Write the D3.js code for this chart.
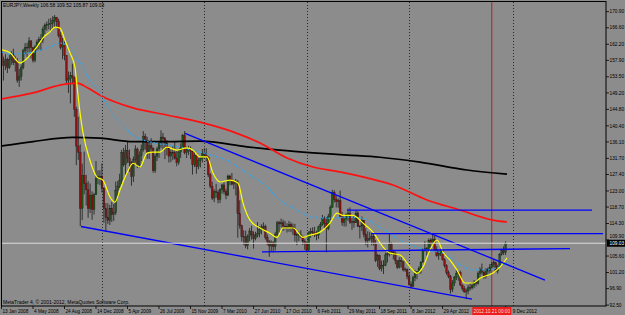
<!DOCTYPE html>
<html>
<head>
<meta charset="utf-8">
<script src="https://cdn.jsdelivr.net/npm/d3@7"></script>
<style>
  html, body { margin:0; padding:0; background:#8c8c8c; overflow:hidden; }
  svg { display:block; }
  text { font-family: "Liberation Sans", Arial, sans-serif; fill:#000; }
</style>
</head>
<body>
<div id="chart"></div>
<script>
// header of the chart
const symbolTitle = 'EURJPY,Weekly'
const lastBarText = ['106.58', '109.52', '105.87', '109.03']
const copyright = 'MetaTrader 4, \u00a9 2001-2012, MetaQuotes Software Corp.'

// weekly bars, week 0 = 13 Jan 2008 (open of a bar = previous close)
const firstOpen = 160.6
const closes = [
  157.6, 156.5, 158.1, 155.9, 158.1, 159.6, 157.3, 157.7, 152.6, 153.6,
  156.0, 160.5, 161.4, 161.2, 163.1, 161.3, 157.9, 161.5, 162.8, 163.5,
  163.3, 166.2, 167.3, 167.4, 167.6, 167.8, 168.6, 169.4, 168.2, 164.6,
  161.4, 162.0, 159.2, 152.6, 153.0, 153.8, 153.3, 144.8, 135.0, 133.3,
  118.3, 127.2, 125.0, 123.3, 118.3, 121.9, 118.0, 122.0, 126.4, 126.8,
  126.9, 123.7, 118.3, 115.9, 115.1, 118.4, 116.7, 117.2, 123.2, 124.3,
  125.9, 133.2, 130.0, 133.8, 131.8, 130.6, 126.9, 131.4, 134.2, 129.9,
  132.4, 134.1, 137.6, 136.4, 133.3, 135.1, 134.4, 128.4, 132.3, 134.2,
  135.8, 137.4, 137.0, 135.8, 134.5, 132.3, 133.3, 133.2, 131.8, 130.6,
  133.4, 134.7, 137.8, 133.2, 134.0, 134.1, 133.5, 130.1, 132.5, 129.6,
  131.1, 131.7, 133.1, 132.6, 132.1, 127.3, 124.3, 121.1, 122.8, 122.6,
  120.7, 123.4, 124.6, 122.8, 121.9, 127.0, 125.9, 124.8, 125.5, 125.2,
  116.9, 113.7, 110.9, 110.7, 108.4, 110.9, 112.3, 111.3, 110.3, 111.1,
  111.7, 112.8, 113.4, 113.5, 110.6, 109.5, 108.3, 109.3, 108.1, 111.4,
  114.5, 114.2, 114.5, 113.6, 113.5, 113.4, 114.1, 113.4, 112.8, 111.2,
  111.3, 111.3, 110.7, 109.6, 108.9, 107.2, 111.8, 112.2, 111.9, 111.5,
  111.2, 113.4, 114.0, 115.7, 114.4, 112.9, 116.1, 118.6, 122.6, 120.7,
  120.1, 120.4, 116.2, 114.6, 115.5, 116.8, 117.1, 114.6, 114.9, 114.5,
  117.0, 113.6, 113.6, 115.2, 111.4, 109.7, 110.2, 110.3, 110.9, 108.9,
  104.5, 105.7, 102.2, 103.0, 103.2, 105.9, 106.2, 108.8, 106.8, 106.4,
  104.4, 102.6, 104.5, 104.1, 101.9, 102.1, 100.2, 98.0, 97.5, 99.8,
  100.9, 101.4, 102.2, 104.0, 107.3, 107.6, 107.7, 109.8, 108.9, 110.1,
  107.3, 105.7, 106.3, 107.0, 104.6, 103.1, 101.2, 100.2, 96.7, 98.4,
  99.9, 101.0, 101.3, 97.9, 96.9, 96.0, 96.3, 97.2, 97.1, 97.8,
  98.6, 98.3, 100.9, 102.0, 101.3, 100.1, 102.1, 101.6, 102.6, 103.3,
  103.8, 101.6, 102.9, 106.1, 107.0, 106.6, 109.03
]
const highs = [
  161.3, 158.9, 159.5, 158.6, 159.3, 160.3, 161.0, 159.0, 158.5, 155.6,
  156.8, 161.0, 162.5, 162.6, 164.1, 163.3, 161.4, 162.0, 163.4, 164.2,
  164.9, 166.9, 167.8, 168.3, 169.0, 169.2, 169.7, 170.0, 169.5, 169.0,
  165.4, 163.9, 162.9, 159.3, 154.9, 154.8, 157.0, 153.6, 145.5, 142.8,
  135.4, 130.3, 133.5, 127.3, 125.6, 125.0, 122.9, 122.5, 131.0, 128.5,
  128.5, 130.4, 124.0, 119.8, 119.7, 119.3, 120.1, 119.5, 125.5, 125.6,
  127.6, 134.0, 134.5, 135.3, 136.1, 134.1, 131.0, 132.2, 135.2, 134.6,
  133.6, 135.4, 139.0, 138.3, 137.4, 136.0, 137.1, 134.7, 132.9, 134.8,
  136.4, 139.2, 138.5, 137.4, 136.6, 134.6, 134.0, 135.0, 136.2, 133.7,
  133.9, 135.7, 138.2, 139.0, 134.8, 135.1, 134.9, 133.9, 133.8, 133.0,
  131.8, 132.2, 134.2, 134.4, 134.4, 132.2, 127.8, 125.5, 123.5, 124.9,
  123.3, 123.7, 124.9, 125.3, 123.6, 127.4, 127.3, 127.8, 126.0, 126.2,
  125.9, 120.5, 114.0, 112.5, 112.4, 111.4, 113.1, 113.7, 112.2, 112.1,
  114.7, 113.6, 114.1, 114.6, 114.0, 111.4, 109.9, 109.8, 109.6, 112.1,
  115.0, 115.0, 115.6, 115.3, 115.0, 114.4, 115.0, 114.6, 114.3, 114.2,
  111.9, 112.2, 112.5, 111.1, 110.1, 109.5, 112.2, 113.1, 113.3, 113.4,
  112.4, 113.7, 114.7, 116.6, 116.2, 116.0, 116.9, 119.2, 123.3, 123.2,
  121.6, 121.0, 123.1, 117.4, 116.1, 117.0, 118.3, 118.6, 115.9, 116.6,
  117.9, 117.6, 113.9, 116.2, 115.2, 113.1, 112.2, 112.0, 111.8, 112.1,
  109.9, 106.2, 106.0, 104.4, 104.5, 106.5, 106.9, 111.6, 109.3, 107.3,
  106.8, 104.4, 105.3, 105.3, 104.2, 102.6, 102.3, 101.3, 98.8, 100.3,
  101.9, 101.6, 102.9, 104.2, 107.6, 109.6, 108.0, 110.3, 110.4, 111.4,
  111.0, 108.2, 106.9, 107.6, 107.3, 105.0, 103.4, 101.8, 100.6, 99.2,
  100.3, 102.0, 101.6, 101.7, 98.0, 97.6, 96.9, 97.9, 98.3, 98.6,
  99.2, 99.0, 101.5, 102.6, 103.6, 101.8, 102.4, 102.5, 103.5, 104.0,
  104.7, 104.1, 103.3, 106.4, 107.5, 108.2, 109.52
]
const lows = [
  156.5, 152.5, 155.3, 154.5, 155.6, 156.7, 156.6, 154.9, 151.9, 150.8,
  152.5, 155.5, 159.5, 158.8, 160.0, 158.4, 157.3, 157.4, 160.4, 160.8,
  160.5, 162.5, 164.9, 165.8, 166.2, 165.5, 166.0, 166.6, 166.5, 164.0,
  160.8, 158.2, 157.9, 151.8, 149.2, 146.4, 151.5, 142.8, 129.9, 131.3,
  113.6, 115.2, 122.1, 119.1, 115.8, 117.1, 115.3, 116.7, 122.0, 124.8,
  124.6, 122.6, 114.5, 112.1, 114.2, 113.9, 114.7, 115.0, 116.6, 121.5,
  123.8, 124.9, 129.5, 127.3, 130.5, 128.1, 124.4, 125.4, 130.6, 129.1,
  129.2, 131.0, 133.5, 134.0, 131.6, 131.5, 133.3, 127.9, 127.8, 131.0,
  131.8, 134.5, 134.0, 131.5, 132.5, 130.6, 130.7, 131.2, 131.4, 129.6,
  130.0, 131.8, 134.0, 132.8, 131.8, 132.6, 131.5, 127.4, 129.4, 127.6,
  128.8, 129.3, 130.6, 131.9, 130.9, 126.7, 123.7, 120.6, 120.0, 121.2,
  119.7, 119.8, 122.3, 122.1, 120.8, 121.6, 124.5, 124.5, 123.5, 121.8,
  110.5, 112.9, 109.5, 108.6, 107.7, 107.4, 109.6, 110.0, 107.6, 109.8,
  110.6, 110.6, 111.4, 112.4, 110.0, 108.5, 105.4, 106.8, 106.6, 107.1,
  110.9, 111.9, 113.3, 112.3, 112.7, 111.9, 112.1, 112.0, 111.3, 109.5,
  108.5, 109.6, 110.4, 108.6, 107.3, 106.6, 106.9, 110.5, 111.0, 110.7,
  109.8, 110.2, 112.5, 113.7, 113.0, 106.6, 112.5, 115.2, 118.5, 119.9,
  118.6, 118.5, 116.0, 113.7, 113.5, 113.5, 115.0, 114.2, 112.6, 113.2,
  114.5, 113.3, 110.3, 112.3, 110.6, 108.5, 107.9, 109.6, 108.5, 108.4,
  104.0, 102.7, 101.8, 101.5, 100.8, 102.9, 103.9, 105.5, 105.9, 104.7,
  103.4, 102.2, 102.3, 102.5, 101.5, 101.4, 99.4, 97.7, 97.0, 97.4,
  98.9, 99.4, 100.9, 100.9, 103.8, 106.8, 105.7, 106.7, 107.3, 108.5,
  107.0, 105.4, 104.6, 105.6, 104.4, 102.5, 100.6, 99.7, 95.6, 96.0,
  97.6, 99.2, 99.0, 97.5, 96.3, 95.8, 94.1, 95.4, 96.4, 96.7,
  97.0, 97.5, 98.0, 99.8, 100.6, 99.5, 99.6, 100.6, 101.0, 102.4,
  102.6, 101.4, 100.9, 102.8, 105.7, 105.9, 105.87
]

// indicator lines: [week, price]
const maYellow = [
  [0,160.7],[4.3,159.9],[9.4,157.2],[14.5,159.3],[18,161.5],[21.1,163.9],[24.6,165.5],[27.2,166.8],
  [29.7,166.5],[32.2,163.3],[34.8,159.9],[37.3,156.1],[38.3,151.3],[39.9,143.8],[41.4,138.5],
  [44.9,131.2],[48.5,126.7],[51.5,125.9],[55.1,121.4],[57.6,120.0],[60.2,123.3],[63.7,127.8],
  [66.8,130.4],[70.3,129.4],[73.9,133.1],[76.9,133.4],[80.5,133.4],[84,134.7],[89.1,133.9],
  [94.2,134.5],[97.3,133.9],[100.8,132.1],[104.4,132.1],[107.4,127.8],[111,125.4],[116.1,125.9],
  [120.1,125.1],[122.7,119.7],[126.2,115.2],[131.3,113.1],[136.4,111.7],[139.9,110.6],[143,113.1],
  [148.1,113.1],[153.1,110.6],[156.7,111.2],[161.8,112.0],[166.8,114.4],[170.4,117.1],[173.4,116.5],
  [178.5,116.5],[183.6,114.4],[188.7,112.0],[193.8,108.0],[197.3,106.4],[202.4,105.9],[207.5,102.7],
  [211,101.0],[214.1,102.7],[217.6,107.2],[221.2,109.9],[224.2,106.7],[227.8,104.5],[231.3,101.9],
  [235.4,98.4],[239.5,98.4],[243,99.7],[249.6,101.1],[253.2,102.7],[256.7,105.1]
]
const maBlue = [
  [0,160.1],[5.8,159.6],[16,160.1],[24.6,161.5],[29.7,162.5],[34.8,161.2],[39.9,157.2],[44.9,152.6],
  [50,149.2],[55.1,144.6],[60.2,141.2],[66.8,137.9],[75.4,136.1],[84,135.3],[92.2,134.5],[100.8,133.4],
  [116.1,130.7],[124.7,127.8],[134.8,124.1],[141.4,120.6],[150.1,117.9],[158.2,116.0],[166.8,115.7],
  [175.5,116.0],[183.6,115.7],[192.2,113.3],[202.4,109.9],[216.1,107.2],[224.2,106.4],[232.9,103.2],
  [239.5,101.9],[246.6,101.9],[256.7,103.7]
]
const maRed = [
  [0,147.6],[16,149.2],[29.7,151.3],[33.3,151.6],[38.3,151.8],[43.9,150.5],[50,148.6],[66.8,145.2],
  [84,143.3],[100.8,141.4],[117.6,138.8],[131.3,135.8],[145,131.8],[158.2,129.4],[171.9,128.1],
  [185.6,126.5],[198.8,124.6],[216.1,120.6],[232.9,117.9],[249.6,115.2],[256.7,114.7]
]
const maBlack = [
  [0,135.0],[16,136.2],[36.3,137.3],[50,137.1],[66.8,136.2],[84,136.2],[100.8,136.3],[124.7,134.8],
  [141.4,133.9],[158.2,133.2],[175.5,132.6],[192.2,132.0],[212.5,130.7],[236.4,128.6],[256.7,127.5]
]

// drawn objects: [[week, price], [week, price]]
const trendLines = [
  [[93.2,138.4],[276.0,99.2]],
  [[40.4,113.5],[238.95,94.1]],
  [[175.5,117.9],[299.9,117.9]],
  [[187.7,111.6],[305.5,111.6]],
  [[132.3,106.7],[288.7,107.6]]
]
const bidPrice = 109.03
const bidLabel = '109.03'
const yearWeeks = [51, 103, 155, 207, 260]
const markerWeek = 249
const markerLabel = '2012.10.21 00:00'

// axis labels (the one at 19 Aug 2012 sits under the marker label)
const yTickLabels = ['170.90','166.60','162.20','157.90','153.50','149.20','144.80','140.40','136.10',
  '131.70','127.40','123.00','118.70','114.30','109.90','105.60','101.20','96.90','92.50']
const xTickWeeks = [0,16,32,48,64,80,96,112,128,144,160,176,192,208,224,256]
const xTickLabels = ['13 Jan 2008','4 May 2008','24 Aug 2008','14 Dec 2008','5 Apr 2009','26 Jul 2009',
  '15 Nov 2009','7 Mar 2010','27 Jun 2010','17 Oct 2010','6 Feb 2011','29 May 2011','18 Sep 2011',
  '8 Jan 2012','29 Apr 2012','9 Dec 2012']

function draw() {
  const width = 625
  const height = 315
  const plot = { left: 2, right: 606, top: 2, bottom: 306 }

  const svg = d3.select('#chart')
    .append('svg')
    .attr('width', width)
    .attr('height', height)

  svg.append('rect')
    .attr('width', width).attr('height', height)
    .attr('fill', '#8c8c8c')

  //scales
  const xScale = d3.scaleLinear()
    .domain([0, 307])
    .range([1.5, plot.right])
  const yScale = d3.scaleLinear()
    .domain([92.26, 173.49])
    .range([plot.bottom, plot.top])

  svg.append('clipPath').attr('id', 'clip')
    .append('rect')
    .attr('x', plot.left).attr('y', plot.top)
    .attr('width', plot.right - plot.left).attr('height', plot.bottom - plot.top)

  const ctr = svg.append('g').attr('clip-path', 'url(#clip)')

  //period separators
  ctr.selectAll('.sep')
    .data(yearWeeks)
    .join('line')
    .attr('x1', d => Math.round(xScale(d)) + 0.5)
    .attr('x2', d => Math.round(xScale(d)) + 0.5)
    .attr('y1', plot.top).attr('y2', plot.bottom)
    .attr('stroke', '#2a2a2a')
    .attr('stroke-width', 1)
    .attr('stroke-dasharray', '1,2')

  //marker line
  ctr.append('line')
    .attr('x1', xScale(markerWeek)).attr('x2', xScale(markerWeek))
    .attr('y1', plot.top).attr('y2', plot.bottom)
    .attr('stroke', '#b01818')
    .attr('stroke-width', 0.9)

  //candles
  const bars = closes.map((c, i) => ({
    i,
    o: i === 0 ? firstOpen : closes[i - 1],
    c,
    h: highs[i],
    l: lows[i]
  }))

  ctr.selectAll('.wick')
    .data(bars)
    .join('line')
    .attr('x1', d => xScale(d.i)).attr('x2', d => xScale(d.i))
    .attr('y1', d => yScale(d.h)).attr('y2', d => yScale(d.l))
    .attr('stroke', '#1a1a1a')
    .attr('stroke-width', 0.8)

  ctr.selectAll('.body')
    .data(bars)
    .join('rect')
    .attr('x', d => xScale(d.i) - 0.9)
    .attr('width', 1.8)
    .attr('y', d => yScale(Math.max(d.o, d.c)))
    .attr('height', d => Math.max(0.8, Math.abs(yScale(d.o) - yScale(d.c))))
    .attr('fill', d => d.c >= d.o ? '#1d561d' : '#8a1212')
    .attr('stroke', '#1a1a1a')
    .attr('stroke-width', 0.3)

  //indicators
  const maLine = d3.line()
    .x(d => xScale(d[0]))
    .y(d => yScale(d[1]))
    .curve(d3.curveMonotoneX)

  ctr.append('path').datum(maBlack)
    .attr('d', maLine).attr('fill', 'none')
    .attr('stroke', '#000').attr('stroke-width', 1.7)
  ctr.append('path').datum(maRed)
    .attr('d', maLine).attr('fill', 'none')
    .attr('stroke', '#ff1010').attr('stroke-width', 1.7)
  ctr.append('path').datum(maBlue)
    .attr('d', maLine).attr('fill', 'none')
    .attr('stroke', '#2ea4ec').attr('stroke-width', 1.3)
    .attr('stroke-dasharray', '1.6,1.6')
  ctr.append('path').datum(maYellow)
    .attr('d', maLine).attr('fill', 'none')
    .attr('stroke', '#ffff00').attr('stroke-width', 1.2)

  //trend lines
  ctr.selectAll('.trend')
    .data(trendLines)
    .join('line')
    .attr('x1', d => xScale(d[0][0])).attr('y1', d => yScale(d[0][1]))
    .attr('x2', d => xScale(d[1][0])).attr('y2', d => yScale(d[1][1]))
    .attr('stroke', '#0000ff')
    .attr('stroke-width', 1.3)

  //bid line
  ctr.append('line')
    .attr('x1', plot.left).attr('x2', plot.right)
    .attr('y1', yScale(bidPrice)).attr('y2', yScale(bidPrice))
    .attr('stroke', '#dcdcdc')
    .attr('stroke-width', 1)

  //frame
  svg.append('rect')
    .attr('x', plot.left - 0.5).attr('y', plot.top - 0.5)
    .attr('width', plot.right - plot.left + 0.5).attr('height', plot.bottom - plot.top + 0.5)
    .attr('fill', 'none')
    .attr('stroke', '#000')
    .attr('stroke-width', 1)

  //y axis (right); the label next to the price box is nudged up
  const boxTop = yScale(bidPrice) - 3.5
  const labelY = d => Math.min(yScale(+d), Math.abs(yScale(+d) - yScale(bidPrice)) < 6 ? boxTop - 3 : 999)
  const yAxis = svg.append('g')
  yAxis.selectAll('line')
    .data(yTickLabels)
    .join('line')
    .attr('x1', plot.right).attr('x2', plot.right + 3)
    .attr('y1', d => yScale(+d)).attr('y2', d => yScale(+d))
    .attr('stroke', '#000').attr('stroke-width', 0.8)
  yAxis.selectAll('text')
    .data(yTickLabels)
    .join('text')
    .attr('x', plot.right + 3.5)
    .attr('y', labelY)
    .attr('dy', '0.35em')
    .style('font-size', '4.8px')
    .text(d => d)

  //current price box
  svg.append('rect')
    .attr('x', plot.right + 1).attr('y', boxTop)
    .attr('width', width - plot.right - 1).attr('height', 7)
    .attr('fill', '#000')
  svg.append('text')
    .attr('x', plot.right + 3.5)
    .attr('y', yScale(bidPrice))
    .attr('dy', '0.35em')
    .style('font-size', '4.8px')
    .style('fill', '#fff')
    .text(bidLabel)

  //marker date label
  const mx = xScale(markerWeek)
  const boxRight = mx + 19.5

  //x axis (bottom)
  const xAxis = svg.append('g')
  xAxis.selectAll('line')
    .data(xTickWeeks)
    .join('line')
    .attr('x1', d => xScale(d)).attr('x2', d => xScale(d))
    .attr('y1', plot.bottom).attr('y2', plot.bottom + 3)
    .attr('stroke', '#000').attr('stroke-width', 0.8)
  xAxis.selectAll('text')
    .data(xTickLabels)
    .join('text')
    .attr('x', (d, i) => Math.max(xScale(xTickWeeks[i]) + 1, xTickWeeks[i] > markerWeek ? boxRight + 1.5 : 0))
    .attr('y', 313)
    .style('font-size', '4.7px')
    .text(d => d)

  svg.append('rect')
    .attr('x', mx - 19.5).attr('y', 307)
    .attr('width', 39).attr('height', 8)
    .attr('fill', '#ee1c1c')
  svg.append('text')
    .attr('x', mx).attr('y', 313)
    .attr('text-anchor', 'middle')
    .style('font-size', '4.7px')
    .style('fill', '#f4dede')
    .text(markerLabel)

  //titles
  svg.append('text')
    .attr('x', 3).attr('y', 7)
    .style('font-size', '4.9px')
    .text(symbolTitle + '  ' + lastBarText.join(' '))
  svg.append('text')
    .attr('x', 3).attr('y', 304)
    .style('font-size', '5px')
    .text(copyright)
}

draw()
</script>
</body>
</html>
